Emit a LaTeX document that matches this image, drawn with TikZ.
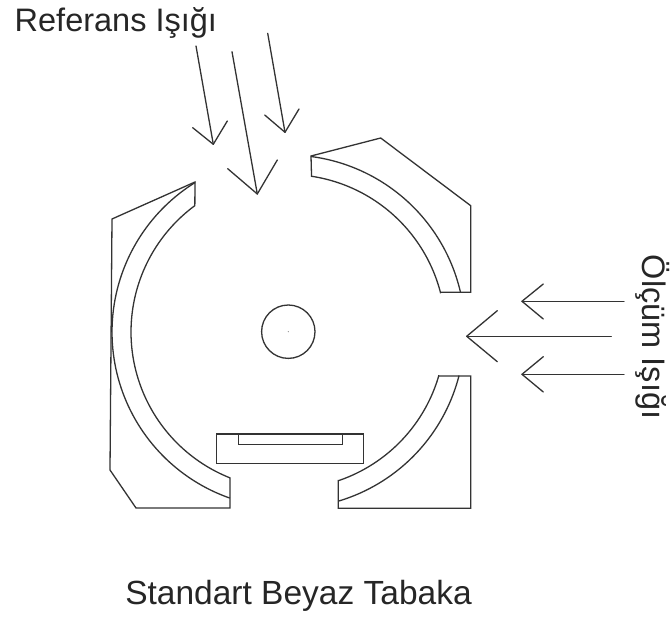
\documentclass[tikz,border=0pt]{standalone}
\usepackage{fontspec}
\setmainfont{Liberation Sans}
\tikzset{
  part/.style={draw=black!80,line width=1.3pt,line join=miter},
  ray/.style={draw=black!80,line width=1.3pt,line join=round,line cap=round},
  caption/.style={text=black!85,font=\fontsize{32.5pt}{38pt}\selectfont,inner sep=0pt},
  rim/.style={domain=#1,samples=80}
}
\begin{document}
\begin{tikzpicture}[x=1pt,y=-1pt]
\useasboundingbox (0,0) rectangle (670,617);
\fill[white] (0,0) rectangle (670,617);
% left reflector
\draw[part] (195,182) -- (112,219) -- (110,470) -- (136,508) -- (230,508) -- (230,478)
  -- plot[rim=248.3:126.4] ({288+157*cos(\x)},{332-157*sin(\x)}) -- cycle;
\draw[part] plot[rim=121.8:250.7] ({288+176*cos(\x)},{332-176*sin(\x)});
% top right reflector
\draw[part] (311,156) -- (380.7,138) -- (470.7,205.7) -- (470.7,292.3) -- (441,292.3)
  -- plot[rim=14.5:81.4] ({288+157.5*cos(\x)},{332-157.5*sin(\x)}) -- cycle;
\draw[part] plot[rim=82.6:13] ({288+177*cos(\x)},{332-177*sin(\x)});
% bottom right reflector
\draw[part] (439.3,376) -- (470.7,376) -- (470.7,508.3) -- (338.3,508.3) -- (338.3,480.7)
  -- plot[rim=-71.3:-16.2] ({288+157*cos(\x)},{332-157*sin(\x)}) -- cycle;
\draw[part] plot[rim=-14.3:-73.4] ({288+176.5*cos(\x)},{332-176.5*sin(\x)});
% white standard tray
\draw[part] (216.7,434) rectangle (363.3,463.3);
\draw[part] (238.3,434) rectangle (342.3,444.3);
% sphere
\node[part,circle,minimum size=53.4pt,inner sep=0pt] (ball) at (288.3,331.7) {};
\fill[black!50] (ball.center) circle (0.6pt);
% reference rays
\coordinate (a1s) at (196,46); \coordinate (a1t) at (213.3,144.3);
\coordinate (a1l) at (192.7,127.7); \coordinate (a1r) at (227.3,121);
\coordinate (a2s) at (232,51.7); \coordinate (a2t) at (257.3,194);
\coordinate (a2l) at (227.7,168.7); \coordinate (a2r) at (277.3,160);
\coordinate (a3s) at (267.7,33.3); \coordinate (a3t) at (285,132.3);
\coordinate (a3l) at (264.7,115); \coordinate (a3r) at (299,109);
\draw[ray] (a1s) -- (a1t); \draw[ray] (a1l) -- (a1t) -- (a1r);
\draw[ray] (a2s) -- (a2t); \draw[ray] (a2l) -- (a2t) -- (a2r);
\draw[ray] (a3s) -- (a3t); \draw[ray] (a3l) -- (a3t) -- (a3r);
% measurement rays
\coordinate (b1s) at (624,301.3); \coordinate (b1t) at (522,301.3);
\coordinate (b1l) at (543.3,284); \coordinate (b1r) at (543.3,319);
\coordinate (b2s) at (611.3,336.3); \coordinate (b2t) at (466.7,336.3);
\coordinate (b2l) at (497.3,310.7); \coordinate (b2r) at (497.3,361.7);
\coordinate (b3s) at (624,374.3); \coordinate (b3t) at (522,374.3);
\coordinate (b3l) at (543.3,356.7); \coordinate (b3r) at (543.3,392);
\draw[ray] (b1s) -- (b1t); \draw[ray] (b1l) -- (b1t) -- (b1r);
\draw[ray] (b2s) -- (b2t); \draw[ray] (b2l) -- (b2t) -- (b2r);
\draw[ray] (b3s) -- (b3t); \draw[ray] (b3l) -- (b3t) -- (b3r);
% labels
\node[caption,anchor=base west] (ref) at (14.5,32) {Referans Işığı};
\node[caption,anchor=base,rotate=-90] (olc) at (642,337) {Ölçüm Işığı};
\node[caption,anchor=base,font=\fontsize{33.5pt}{38pt}\selectfont] (std) at (298.5,605) {Standart Beyaz Tabaka};
\end{tikzpicture}
\end{document}
